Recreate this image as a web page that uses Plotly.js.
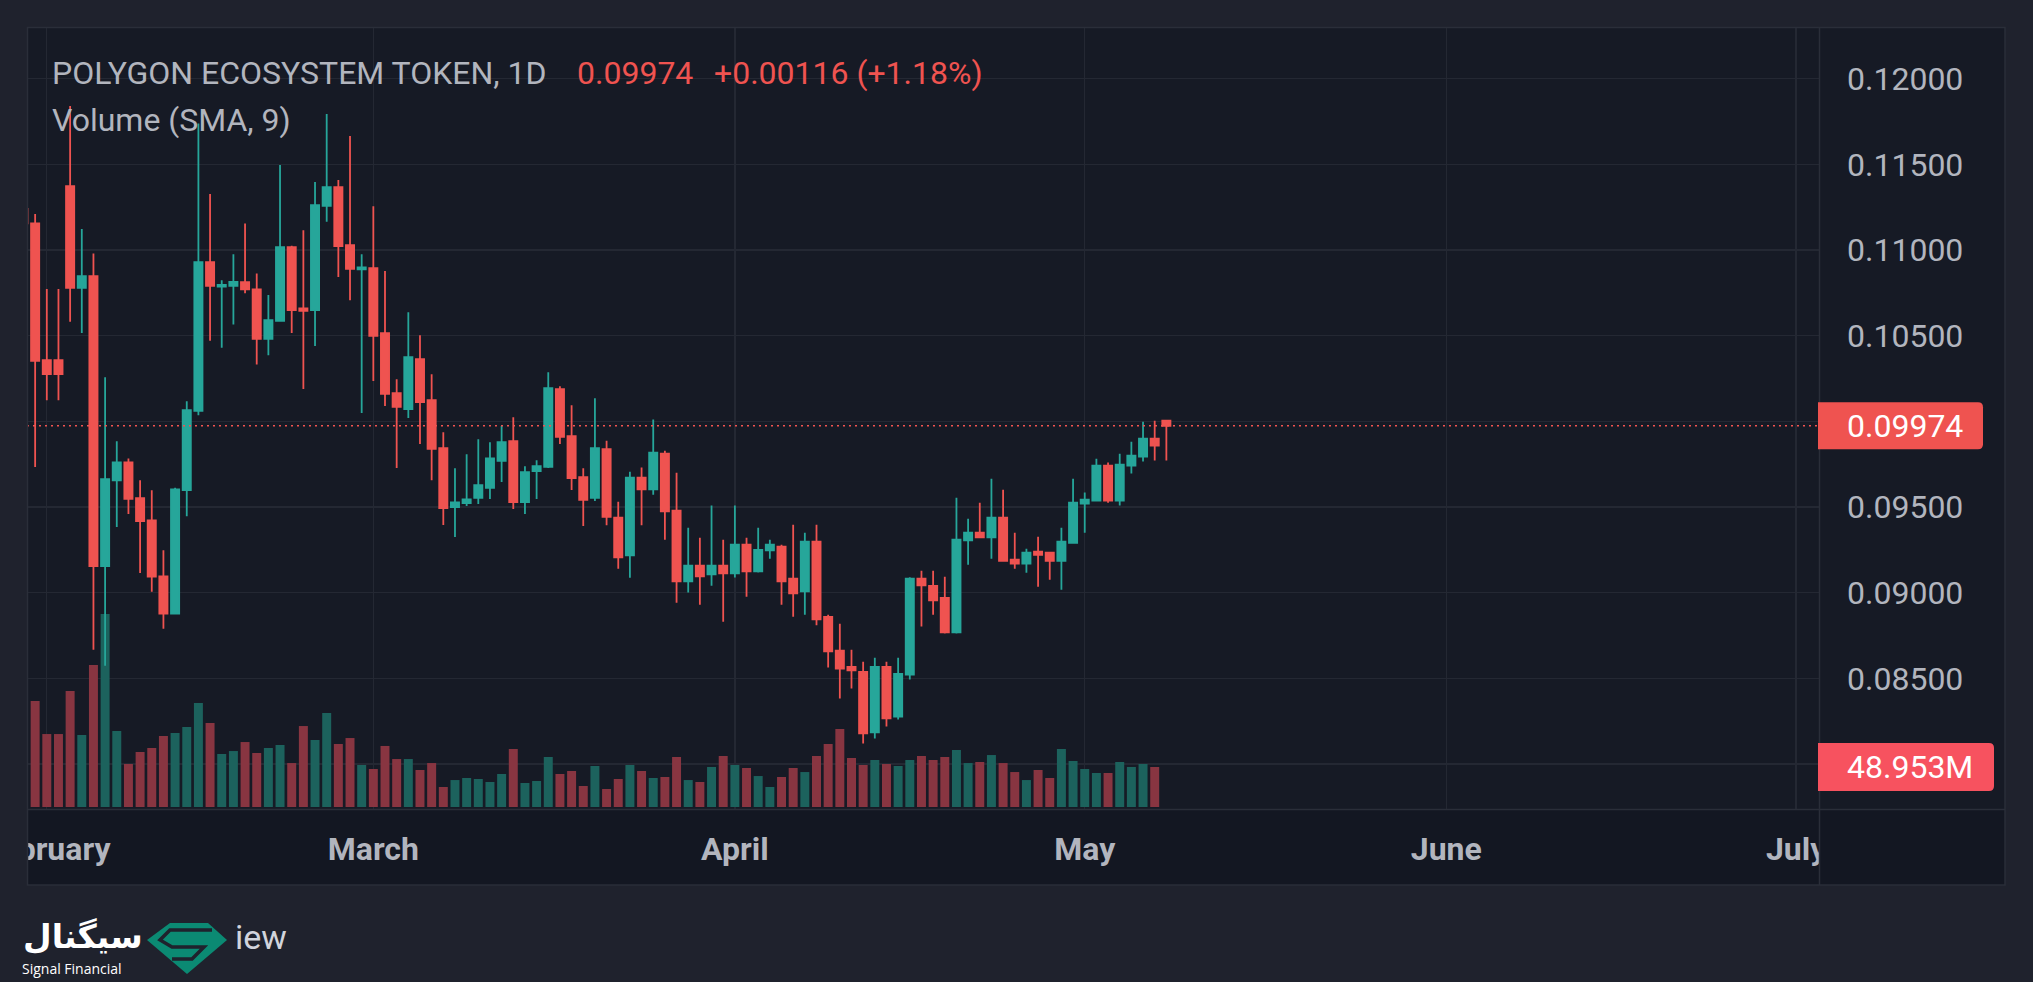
<!DOCTYPE html>
<html>
<head>
<meta charset="utf-8">
<script src="https://cdn.plot.ly/plotly-3.0.1.min.js"></script>
<style>
  html, body { margin: 0; padding: 0; background: #1f222d; }
  #chart { width: 2033px; height: 982px; }
</style>
</head>
<body>
<div id="chart"></div>
<script>
// ---------------- DATA ----------------
const dates = [
  "2025-01-30","2025-01-31","2025-02-01","2025-02-02","2025-02-03","2025-02-04","2025-02-05","2025-02-06","2025-02-07","2025-02-08",
  "2025-02-09","2025-02-10","2025-02-11","2025-02-12","2025-02-13","2025-02-14","2025-02-15","2025-02-16","2025-02-17","2025-02-18",
  "2025-02-19","2025-02-20","2025-02-21","2025-02-22","2025-02-23","2025-02-24","2025-02-25","2025-02-26","2025-02-27","2025-02-28",
  "2025-03-01","2025-03-02","2025-03-03","2025-03-04","2025-03-05","2025-03-06","2025-03-07","2025-03-08","2025-03-09","2025-03-10",
  "2025-03-11","2025-03-12","2025-03-13","2025-03-14","2025-03-15","2025-03-16","2025-03-17","2025-03-18","2025-03-19","2025-03-20",
  "2025-03-21","2025-03-22","2025-03-23","2025-03-24","2025-03-25","2025-03-26","2025-03-27","2025-03-28","2025-03-29","2025-03-30",
  "2025-03-31","2025-04-01","2025-04-02","2025-04-03","2025-04-04","2025-04-05","2025-04-06","2025-04-07","2025-04-08","2025-04-09",
  "2025-04-10","2025-04-11","2025-04-12","2025-04-13","2025-04-14","2025-04-15","2025-04-16","2025-04-17","2025-04-18","2025-04-19",
  "2025-04-20","2025-04-21","2025-04-22","2025-04-23","2025-04-24","2025-04-25","2025-04-26","2025-04-27","2025-04-28","2025-04-29",
  "2025-04-30","2025-05-01","2025-05-02","2025-05-03","2025-05-04","2025-05-05","2025-05-06","2025-05-07","2025-05-08"
];
const open = [
  0.1124, 0.11155, 0.10357, 0.10357, 0.11373, 0.10779, 0.10848, 0.09155, 0.09656, 0.09761,
  0.09551, 0.09422, 0.09095, 0.08877, 0.09598, 0.10061, 0.10929, 0.10787, 0.10791, 0.10813,
  0.1077, 0.10481, 0.10586, 0.11017, 0.10659, 0.10649, 0.11258, 0.11367, 0.11029, 0.10887,
  0.10894, 0.10515, 0.10164, 0.10072, 0.10363, 0.10123, 0.09843, 0.095, 0.09523, 0.09553,
  0.09611, 0.09769, 0.09884, 0.09529, 0.0971, 0.09734, 0.10188, 0.09913, 0.09674, 0.09553,
  0.09837, 0.09438, 0.09218, 0.09671, 0.09603, 0.09811, 0.09478, 0.09066, 0.09157, 0.09107,
  0.09157, 0.09112, 0.0928, 0.09124, 0.09247, 0.09268, 0.09081, 0.09007, 0.09297, 0.08859,
  0.08661, 0.08567, 0.08538, 0.08184, 0.08567, 0.08277, 0.08522, 0.09081, 0.0904, 0.0897,
  0.08768, 0.09305, 0.0935, 0.09323, 0.09438, 0.09192, 0.09169, 0.09239, 0.09233, 0.09186,
  0.09291, 0.0952, 0.09537, 0.09741, 0.09537, 0.09741, 0.09794, 0.09899, 0.10004
];
const high = [
  0.1130, 0.1121, 0.10772, 0.10772, 0.11841, 0.11122, 0.1098, 0.10258, 0.09884, 0.09783,
  0.09656, 0.09598, 0.09247, 0.09612, 0.10117, 0.11739, 0.11327, 0.10824, 0.10976, 0.11155,
  0.10863, 0.10737, 0.11496, 0.11025, 0.11116, 0.11397, 0.11794, 0.11408, 0.11666, 0.10976,
  0.11256, 0.10877, 0.10246, 0.10637, 0.10503, 0.10275, 0.09936, 0.09726, 0.09808, 0.09895,
  0.09878, 0.09973, 0.10024, 0.09738, 0.09773, 0.10287, 0.10205, 0.10094, 0.09726, 0.10135,
  0.09887, 0.09531, 0.09706, 0.0973, 0.1001, 0.09829, 0.097, 0.09379, 0.0932, 0.09508,
  0.09309, 0.09508, 0.0932, 0.09379, 0.09309, 0.0928, 0.09397, 0.0935, 0.09397, 0.08871,
  0.08818, 0.08667, 0.08596, 0.0862, 0.08596, 0.0862, 0.0909, 0.09128, 0.09128, 0.09093,
  0.09554, 0.09432, 0.09525, 0.09665, 0.09601, 0.0935, 0.09256, 0.09327, 0.09233, 0.09379,
  0.09665, 0.09584, 0.09782, 0.09759, 0.09811, 0.09881, 0.09998, 0.10004, 0.10004
];
const low = [
  0.1095, 0.09734, 0.10123, 0.10123, 0.10581, 0.10516, 0.08667, 0.08573, 0.09383, 0.09459,
  0.09115, 0.09005, 0.08789, 0.08877, 0.09446, 0.10036, 0.1047, 0.10429, 0.10565, 0.10747,
  0.10332, 0.10386, 0.10586, 0.10516, 0.10189, 0.10439, 0.11165, 0.10843, 0.10707, 0.10049,
  0.10236, 0.1009, 0.09728, 0.1002, 0.09868, 0.09656, 0.09395, 0.09325, 0.09506, 0.09518,
  0.09547, 0.09646, 0.09488, 0.09459, 0.09547, 0.09728, 0.09868, 0.09599, 0.09389, 0.09535,
  0.09393, 0.0914, 0.09087, 0.09393, 0.09572, 0.09309, 0.08941, 0.09001, 0.08929, 0.0904,
  0.0883, 0.09089, 0.08976, 0.09118, 0.09198, 0.08929, 0.08859, 0.08871, 0.08809, 0.08563,
  0.08382, 0.08441, 0.0812, 0.08149, 0.08219, 0.0826, 0.08493, 0.08803, 0.08871, 0.08762,
  0.08762, 0.09163, 0.09323, 0.09198, 0.09186, 0.0914, 0.09116, 0.09035, 0.09075, 0.09017,
  0.09291, 0.0935, 0.09537, 0.09525, 0.09508, 0.09695, 0.09765, 0.09771, 0.09771
];
const close = [
  0.11155, 0.10353, 0.10275, 0.10275, 0.10779, 0.10848, 0.09155, 0.09662, 0.09761, 0.09547,
  0.09418, 0.09093, 0.08877, 0.09603, 0.10065, 0.10929, 0.10791, 0.10797, 0.10814, 0.1077,
  0.10481, 0.10591, 0.11017, 0.10649, 0.10645, 0.11262, 0.11367, 0.11023, 0.1089, 0.10898,
  0.10499, 0.1016, 0.10084, 0.10374, 0.10112, 0.09839, 0.09494, 0.09527, 0.09545, 0.09627,
  0.09784, 0.09878, 0.09529, 0.09703, 0.09738, 0.10193, 0.09909, 0.09669, 0.09541, 0.09843,
  0.09442, 0.09206, 0.09671, 0.09603, 0.09817, 0.09475, 0.09066, 0.09157, 0.09095, 0.09157,
  0.09112, 0.0928, 0.09124, 0.0925, 0.0928, 0.09066, 0.08996, 0.09297, 0.08844, 0.08657,
  0.08557, 0.08546, 0.08178, 0.08567, 0.08266, 0.08526, 0.09081, 0.09042, 0.08955, 0.08768,
  0.09309, 0.0935, 0.09323, 0.09438, 0.09186, 0.09169, 0.09233, 0.09221, 0.09186, 0.09297,
  0.09525, 0.09543, 0.09741, 0.09537, 0.09747, 0.098, 0.09899, 0.09858, 0.09974
];
// volume in millions
const volumeM = [
  91.8, 129.7, 89.3, 89.3, 142.0, 88.1, 173.8, 236.2, 93.0, 52.6,
  67.3, 72.2, 86.9, 90.6, 97.9, 127.3, 102.8, 64.9, 68.5, 79.5,
  66.1, 72.2, 75.9, 53.8, 99.1, 82.0, 115.0, 77.1, 84.4, 51.4,
  46.5, 74.7, 58.7, 58.7, 45.3, 53.8, 24.5, 33.0, 35.5, 34.3,
  30.6, 40.4, 71.0, 29.4, 31.8, 61.2, 40.4, 44.1, 25.7, 50.2,
  22.0, 34.3, 51.4, 44.1, 35.5, 36.7, 61.2, 33.0, 30.6, 49.0,
  62.4, 51.4, 47.7, 37.9, 24.5, 36.7, 47.7, 42.8, 62.4, 77.1,
  95.5, 60.0, 51.4, 57.5, 52.6, 50.2, 57.5, 62.4, 57.5, 61.2,
  69.8, 53.8, 55.1, 63.6, 53.8, 42.8, 33.0, 45.3, 35.5, 71.0,
  56.3, 46.5, 41.6, 41.6, 55.1, 49.0, 52.6, 48.953, null
];
const priceTicks = [0.080, 0.085, 0.090, 0.095, 0.100, 0.105, 0.110, 0.115, 0.120];
const hiddenTickLabels = [0.080, 0.100];   // covered by the price / volume labels
const symbolTitle = "POLYGON ECOSYSTEM TOKEN, 1D";
const volumeTitle = "Volume (SMA, 9)";

// ---------------- STYLE / LAYOUT ----------------
const UP = "#26a69a", DOWN = "#ef5350";
const VOL_UP = "#1c625d", VOL_DOWN = "#883541";
const OUTER = "#1f222d", PANEL = "#161a25", TIMEROW = "#131722", BORDER = "#2a2e39", GRID = "#242833";
const TXT = "#b2b5be";

const W = 2033, H = 982;
const ML = 27, MR = 214, MT = 27, MB = 173;
const PW = W - ML - MR, PH = H - MT - MB;
const X = px => (px - ML) / PW;
const Y = py => (H - MB - py) / PH;

const n = close.length;
const last = close[n - 1], prev = close[n - 2];
const diff = last - prev, pct = diff / prev * 100;
let lastVolIdx = n - 1; while (volumeM[lastVolIdx] == null) lastVolIdx--;
const lastVol = volumeM[lastVolIdx];

const volColors = close.map((c, i) => c >= open[i] ? VOL_UP : VOL_DOWN);

const volTrace = {
  type: "bar", x: dates, y: volumeM, xaxis: "x", yaxis: "y",
  marker: { color: volColors, line: { width: 0 } }, hoverinfo: "skip"
};
const candleTrace = {
  type: "candlestick", x: dates, open: open, high: high, low: low, close: close,
  xaxis: "x", yaxis: "y2", whiskerwidth: 0, hoverinfo: "skip",
  increasing: { line: { color: UP, width: 1.8 }, fillcolor: UP },
  decreasing: { line: { color: DOWN, width: 1.8 }, fillcolor: DOWN }
};

const priceRange = [0.077371, 0.123018];
const volPxPerM = 0.8171;
const volRange = [-2 / volPxPerM, (H - MB - 2 - MT) / volPxPerM];
const pricePerPx = (priceRange[1] - priceRange[0]) / PH;

function roundRightBox(x0px, x1px, yc, halfH, unitPerPx, r) {
  const x0 = X(x0px), x1 = X(x1px), xr = X(x1px - r);
  const yt = yc + halfH, yb = yc - halfH, rr = r * unitPerPx;
  return `M ${x0} ${yt} L ${xr} ${yt} Q ${x1} ${yt} ${x1} ${yt - rr} L ${x1} ${yb + rr} Q ${x1} ${yb} ${xr} ${yb} L ${x0} ${yb} Z`;
}
function pxPath(pts, closePath) {
  return pts.map((p, i) => (i ? "L " : "M ") + X(p[0]) + " " + Y(p[1])).join(" ") + (closePath ? " Z" : "");
}

const shapes = [
  { type: "rect", xref: "paper", yref: "paper", x0: X(1819), x1: X(2005), y0: Y(809), y1: Y(27), fillcolor: PANEL, line: { width: 0 }, layer: "below" },
  { type: "rect", xref: "paper", yref: "paper", x0: X(27), x1: X(2005), y0: Y(885), y1: Y(809), fillcolor: TIMEROW, line: { width: 0 }, layer: "below" },
  { type: "line", xref: "paper", yref: "y2", x0: 0, x1: 1, y0: last, y1: last, line: { color: DOWN, width: 1.5, dash: "2px,4px" }, layer: "above" },
  { type: "rect", xref: "paper", yref: "paper", x0: X(-20), x1: X(27), y0: Y(885), y1: Y(809), fillcolor: OUTER, line: { width: 0 }, layer: "above" },
  { type: "rect", xref: "paper", yref: "paper", x0: X(1819), x1: X(2005), y0: Y(885), y1: Y(809), fillcolor: TIMEROW, line: { width: 0 }, layer: "above" },
  { type: "rect", xref: "paper", yref: "paper", x0: X(27.5), x1: X(2005), y0: Y(885), y1: Y(27.5), line: { color: BORDER, width: 1.5 }, fillcolor: "rgba(0,0,0,0)", layer: "above" },
  { type: "line", xref: "paper", yref: "paper", x0: X(1819.5), x1: X(1819.5), y0: Y(885), y1: Y(27.5), line: { color: BORDER, width: 1.5 }, layer: "above" },
  { type: "line", xref: "paper", yref: "paper", x0: X(27.5), x1: X(2005), y0: Y(809.5), y1: Y(809.5), line: { color: BORDER, width: 1.5 }, layer: "above" },
  { type: "path", xref: "paper", yref: "y2", path: roundRightBox(1818, 1983, last, 23.5 * pricePerPx, pricePerPx, 5), fillcolor: DOWN, line: { width: 0 }, layer: "above" },
  { type: "path", xref: "paper", yref: "y", path: roundRightBox(1818, 1994, lastVol, 24 / volPxPerM, 1 / volPxPerM, 5), fillcolor: "#f7525f", line: { width: 0 }, layer: "above" },
  { type: "path", xref: "paper", yref: "paper", path: pxPath([[147, 940], [170, 923], [208, 923], [227, 940], [187, 974]], true), fillcolor: "#0b8a73", line: { width: 0 }, layer: "above" },
  { type: "path", xref: "paper", yref: "paper", path: pxPath([[212, 930], [170, 930], [160, 940], [172, 947], [204, 947], [192, 959], [172, 959]], false), fillcolor: "rgba(0,0,0,0)", line: { color: OUTER, width: 3.5 }, layer: "above" }
];

const annotations = [
  { xref: "paper", yref: "paper", x: X(51), y: Y(73), xanchor: "left", yanchor: "middle", showarrow: false, borderpad: 0,
    text: symbolTitle, font: { family: "Roboto", size: 32, color: TXT } },
  { xref: "paper", yref: "paper", x: X(576), y: Y(73), xanchor: "left", yanchor: "middle", showarrow: false, borderpad: 0,
    text: last.toFixed(5), font: { family: "Roboto", size: 32, color: DOWN } },
  { xref: "paper", yref: "paper", x: X(713), y: Y(73), xanchor: "left", yanchor: "middle", showarrow: false, borderpad: 0,
    text: (diff >= 0 ? "+" : "") + diff.toFixed(5) + " (" + (pct >= 0 ? "+" : "") + pct.toFixed(2) + "%)", font: { family: "Roboto", size: 32, color: DOWN } },
  { xref: "paper", yref: "paper", x: X(51), y: Y(120), xanchor: "left", yanchor: "middle", showarrow: false, borderpad: 0,
    text: volumeTitle, font: { family: "Roboto", size: 32, color: TXT } },
  { xref: "paper", yref: "y2", x: X(1846), y: last, xanchor: "left", yanchor: "middle", showarrow: false, borderpad: 0,
    text: last.toFixed(5), font: { family: "Roboto", size: 32, color: "#ffffff" } },
  { xref: "paper", yref: "y", x: X(1846), y: lastVol, xanchor: "left", yanchor: "middle", showarrow: false, borderpad: 0,
    text: lastVol.toFixed(3) + "M", font: { family: "Roboto", size: 32, color: "#ffffff" } },
  { xref: "paper", yref: "paper", x: X(22), y: Y(936), xanchor: "left", yanchor: "middle", showarrow: false, borderpad: 0,
    text: "<b>سیگنال</b>", font: { family: "DejaVu Sans", size: 33, color: "#ffffff" } },
  { xref: "paper", yref: "paper", x: X(21), y: Y(968), xanchor: "left", yanchor: "middle", showarrow: false, borderpad: 0,
    text: "Signal Financial", font: { family: "Open Sans", size: 14, color: "#ffffff" } },
  { xref: "paper", yref: "paper", x: X(234), y: Y(937), xanchor: "left", yanchor: "middle", showarrow: false, borderpad: 0,
    text: "iew", font: { family: "Roboto", size: 34, color: "#d1d4dc" } }
];

const layout = {
  width: W, height: H, autosize: false,
  margin: { l: ML, r: MR, t: MT, b: MB, pad: 0 },
  paper_bgcolor: OUTER, plot_bgcolor: PANEL,
  showlegend: false, hovermode: false, dragmode: false,
  bargap: 0.23, boxgap: 0.3, boxgroupgap: 0,
  xaxis: {
    type: "date", range: ["2025-01-30 07:15", "2025-07-02 23:05"],
    rangeslider: { visible: false },
    showgrid: true, gridcolor: GRID, gridwidth: 1.3,
    dtick: "M1", tick0: "2025-02-01", tickformat: "%B",
    ticks: "", ticklabelstandoff: 18, ticklabeloverflow: "allow",
    showline: false, zeroline: false,
    tickfont: { family: "Roboto", size: 32, color: TXT, weight: 700 }
  },
  yaxis: { range: volRange, visible: false, showgrid: false, zeroline: false, fixedrange: true },
  yaxis2: {
    overlaying: "y", side: "right", range: priceRange,
    tickmode: "array", tickvals: priceTicks,
    ticktext: priceTicks.map(v => (hiddenTickLabels.some(h => Math.abs(h - v) < 1e-9) ? "" : v.toFixed(5))),
    showgrid: true, gridcolor: GRID, gridwidth: 1.3, zeroline: false, showline: false,
    ticks: "", ticklabelstandoff: 27,
    tickfont: { family: "Roboto", size: 32, color: TXT }
  },
  shapes: shapes,
  annotations: annotations
};

Plotly.newPlot("chart", [volTrace, candleTrace], layout, { displayModeBar: false, staticPlot: true });
</script>
</body>
</html>
